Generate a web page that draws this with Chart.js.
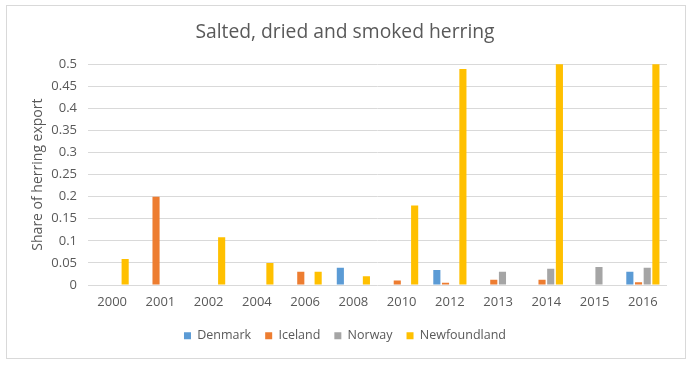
<!DOCTYPE html>
<html>
<head>
<meta charset="utf-8">
<script src="https://cdn.jsdelivr.net/npm/chart.js@4"></script>
<style>
    body { margin: 0; background: #fff; }
    #wrap { position: relative; width: 693px; height: 367px; }
    #frame { position: absolute; left: 6px; top: 5px; width: 678px; height: 352px; border: 1px solid #d9d9d9; pointer-events: none; }
</style>
</head>
<body>
<div id="wrap">
    <canvas id="herring-chart" width="693" height="367"></canvas>
    <div id="frame"></div>
</div>
<script>
const years = ['2000', '2001', '2002', '2004', '2006', '2008', '2010', '2012', '2013', '2014', '2015', '2016'];
const denmark = [0, 0, 0, 0, 0, 0.039, 0, 0.034, 0, 0, 0, 0.030];
const iceland = [0, 0.2, 0, 0, 0.030, 0, 0.010, 0.005, 0.012, 0.012, 0, 0.006];
const norway = [0, 0, 0, 0, 0, 0, 0, 0, 0.030, 0.037, 0.041, 0.039];
const newfoundland = [0.059, 0, 0.108, 0.050, 0.030, 0.020, 0.180, 0.489, 0, 0.55, 0, 0.55];

const textColor = '#595959';
const font = 'Open Sans';

const ctx = document.getElementById('herring-chart').getContext('2d');
const herringChart = new Chart(ctx, {
    type: 'bar',
    data: {
        labels: years,
        datasets: [
            { label: 'Denmark', data: denmark, backgroundColor: '#5B9BD5' },
            { label: 'Iceland', data: iceland, backgroundColor: '#ED7D31' },
            { label: 'Norway', data: norway, backgroundColor: '#A5A5A5' },
            { label: 'Newfoundland', data: newfoundland, backgroundColor: '#FFC000' }
        ]
    },
    options: {
        responsive: false,
        animation: false,
        datasets: {
            bar: { categoryPercentage: 0.72, barPercentage: 0.82 }
        },
        layout: { padding: { left: 23, right: 26, top: 2, bottom: 15 } },
        plugins: {
            title: {
                display: true,
                text: 'Salted, dried and smoked herring',
                color: textColor,
                font: { family: font, size: 19.3, weight: 'normal' },
                padding: { top: 19, bottom: 20 }
            },
            legend: {
                position: 'bottom',
                labels: {
                    color: textColor,
                    font: { family: font, size: 12.5 },
                    boxWidth: 7,
                    boxHeight: 7,
                    padding: 14
                }
            },
            tooltip: { enabled: false }
        },
        scales: {
            x: {
                grid: { display: false },
                border: { display: false },
                ticks: { color: textColor, font: { family: font, size: 13 }, padding: 1 },
                afterFit: (scale) => { scale.height = 30.5; }
            },
            y: {
                min: 0,
                max: 0.5,
                ticks: {
                    stepSize: 0.05,
                    color: textColor,
                    font: { family: font, size: 13 },
                    padding: 11,
                    callback: (v) => parseFloat(v.toFixed(2)).toString()
                },
                grid: { color: '#d9d9d9', drawTicks: false },
                border: { display: false },
                title: {
                    display: true,
                    text: 'Share of herring export',
                    color: textColor,
                    font: { family: font, size: 14 },
                    padding: { top: 6.5, bottom: 0 }
                },
                afterFit: (scale) => { scale.width = 65; }
            }
        }
    }
});
</script>
</body>
</html>
